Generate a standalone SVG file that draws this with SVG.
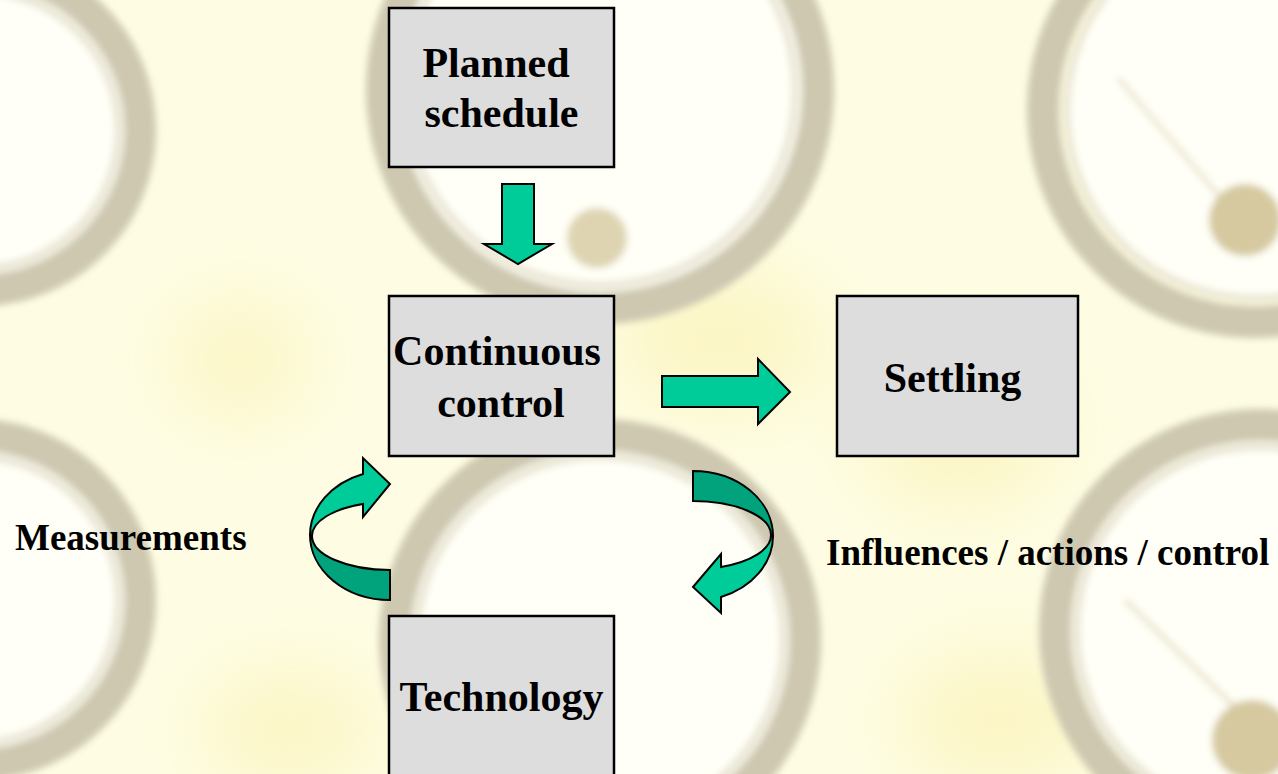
<svg xmlns="http://www.w3.org/2000/svg" width="1278" height="774" viewBox="0 0 1278 774">
  <defs>
    <filter id="soft" x="-10%" y="-10%" width="120%" height="120%">
      <feGaussianBlur stdDeviation="3.5"/>
    </filter>
    <filter id="glow" x="-50%" y="-50%" width="200%" height="200%">
      <feGaussianBlur stdDeviation="40"/>
    </filter>
  </defs>
  <style>
    .face { fill: #FFFFF7; }
    .ring { fill: none; stroke: #CEC8B0; stroke-width: 32; }
    .ring2 { fill: none; stroke: #E2DCC6; stroke-width: 5; }
    .pivot { fill: #D6C9A0; }
    .needle { stroke: #D8C9A2; stroke-width: 2.5; fill: none; }
    .box { fill: #DDDDDD; stroke: #000000; stroke-width: 2.5; }
    .btxt { font-family: "Liberation Serif", "Times New Roman", serif; font-weight: bold; font-size: 42px; fill: #000000; text-anchor: middle; }
    .ltxt { font-family: "Liberation Serif", "Times New Roman", serif; font-weight: bold; font-size: 37px; fill: #000000; }
    .light { fill: #00CC99; stroke: #000000; stroke-width: 2; stroke-linejoin: miter; }
    .dark { fill: #00A37B; stroke: #000000; stroke-width: 2; stroke-linejoin: miter; }
  </style>

  <!-- background: faded photo of gauges -->
  <g id="background">
    <rect x="0" y="0" width="1278" height="774" fill="#FEFDE4"/>
    <g filter="url(#glow)" opacity="0.45">
      <ellipse cx="720" cy="340" rx="110" ry="70" fill="#F8EC9C"/>
      <ellipse cx="960" cy="430" rx="100" ry="80" fill="#F8EC9C"/>
      <ellipse cx="1000" cy="720" rx="100" ry="70" fill="#F8EC9C"/>
      <ellipse cx="290" cy="730" rx="90" ry="60" fill="#F8EC9C"/>
      <ellipse cx="240" cy="360" rx="70" ry="60" fill="#F8EC9C"/>
    </g>
    <g filter="url(#soft)">
      <!-- gauge A top-left -->
      <circle class="face" cx="-20" cy="130" r="145"/>
      <circle class="ring" cx="-20" cy="130" r="160"/>
      <circle class="ring2" cx="-20" cy="130" r="138"/>
      <!-- gauge B top-centre -->
      <circle class="face" cx="600" cy="90" r="202"/>
      <circle class="ring" cx="600" cy="90" r="218"/>
      <circle class="ring2" cx="600" cy="90" r="195"/>
      <circle class="pivot" cx="597" cy="238" r="30" opacity="0.8"/>
      <!-- gauge C top-right -->
      <circle class="face" cx="1255" cy="110" r="190"/>
      <circle class="ring" cx="1255" cy="110" r="212"/>
      <circle class="ring2" cx="1255" cy="110" r="188"/>
      <line class="needle" x1="1118" y1="78" x2="1238" y2="218"/>
      <circle class="pivot" cx="1245" cy="220" r="36"/>
      <!-- gauge D middle-left -->
      <circle class="face" cx="-25" cy="600" r="150"/>
      <circle class="ring" cx="-25" cy="600" r="165"/>
      <circle class="ring2" cx="-25" cy="600" r="143"/>
      <!-- gauge E bottom-centre -->
      <circle class="face" cx="600" cy="640" r="190"/>
      <circle class="ring" cx="600" cy="640" r="205"/>
      <circle class="ring2" cx="600" cy="640" r="183"/>
      <!-- gauge F bottom-right -->
      <circle class="face" cx="1260" cy="630" r="188"/>
      <circle class="ring" cx="1260" cy="630" r="205"/>
      <circle class="ring2" cx="1260" cy="630" r="183"/>
      <line class="needle" x1="1125" y1="600" x2="1240" y2="712"/>
      <circle class="pivot" cx="1252" cy="740" r="40"/>
    </g>
  </g>

  <!-- nodes -->
  <g id="node-planned">
    <rect class="box" x="389" y="8" width="225" height="159"/>
    <text class="btxt" x="496" y="77">Planned</text>
    <text class="btxt" x="501.5" y="127">schedule</text>
  </g>
  <g id="node-continuous">
    <rect class="box" x="389" y="296" width="225" height="160"/>
    <text class="btxt" x="497" y="365">Continuous</text>
    <text class="btxt" x="501" y="417">control</text>
  </g>
  <g id="node-settling">
    <rect class="box" x="837" y="296" width="241" height="160"/>
    <text class="btxt" x="952.5" y="392">Settling</text>
  </g>
  <g id="node-technology">
    <rect class="box" x="389" y="616" width="225" height="170"/>
    <text class="btxt" x="501.5" y="711">Technology</text>
  </g>

  <!-- connectors -->
  <g id="connectors">
    <!-- planned -> continuous -->
    <path class="light" d="M 502,184 L 534,184 L 534,244 L 552,244 L 518,264 L 484,244 L 502,244 Z"/>
    <!-- continuous -> settling -->
    <path class="light" d="M 662,376 L 758,376 L 758,359 L 790,392 L 758,424 L 758,407 L 662,407 Z"/>
    <!-- technology -> continuous (measurements) -->
    <path class="dark" d="M 310,535 A 80 65 0 0 0 390,600 L 390,570 A 78 34 0 0 1 312,536 Z"/>
    <path class="light" d="M 310,535 A 80 65 0 0 1 363,474 L 363,458 L 390,484 L 363,517 L 363,504 A 78 34 0 0 0 312,536 Z"/>
    <!-- continuous -> technology (influences) -->
    <path class="dark" d="M 773,536 A 80 65 0 0 0 693,471 L 693,501 A 78 34 0 0 1 771,535 Z"/>
    <path class="light" d="M 773,536 A 80 65 0 0 1 721,597 L 721,613 L 693,587 L 721,554 L 721,567 A 78 34 0 0 0 771,535 Z"/>
    <text class="ltxt" x="15" y="550">Measurements</text>
    <text class="ltxt" x="826" y="565">Influences / actions / control</text>
  </g>
</svg>
